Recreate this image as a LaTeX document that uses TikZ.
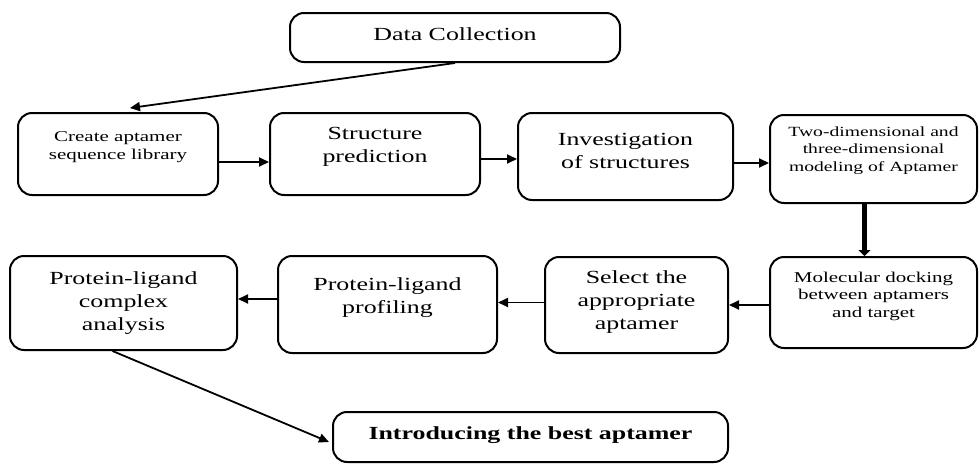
\documentclass[tikz,border=0pt]{standalone}
\usepackage{fontspec}
\setmainfont{Liberation Serif}[FakeStretch=1.4]
\usetikzlibrary{arrows.meta,calc}
\begin{document}
\begin{tikzpicture}[x=1pt,y=-1pt,
  box/.style={draw=black, line width=2pt, rounded corners=14pt, fill=white, inner sep=0pt},
  lbl/.style={align=center, inner sep=0pt},
  big/.style={font=\fontsize{18.5}{23}\selectfont},
  small/.style={font=\fontsize{15}{17.5}\selectfont},
  tiny/.style={font=\fontsize{14}{17.5}\selectfont},
  arr/.style={line width=1.8pt, -{Triangle[length=10pt,width=9pt]}},
  tarr/.style={line width=5.5pt, -{Triangle[length=6pt,width=12pt]}}]
\useasboundingbox (0,0) rectangle (980,466);
% boxes
\node[box, minimum width=330pt, minimum height=49pt] (dc) at (455,37.5) {};
\node[box, minimum width=200pt, minimum height=82pt] (create) at (118,154) {};
\node[box, minimum width=210pt, minimum height=82pt] (struct) at (375,154) {};
\node[box, minimum width=215pt, minimum height=87pt] (inv) at (625.5,156.5) {};
\node[box, minimum width=207pt, minimum height=88pt] (two) at (873.5,159) {};
\node[box, minimum width=207pt, minimum height=91pt] (mol) at (873.5,302.5) {};
\node[box, minimum width=183pt, minimum height=96pt] (sel) at (636.5,305) {};
\node[box, minimum width=219pt, minimum height=97pt] (prof) at (387.5,304.5) {};
\node[box, minimum width=227pt, minimum height=94pt] (comp) at (123.5,303) {};
\node[box, minimum width=395pt, minimum height=50pt] (intro) at (530.5,437) {};
% texts
\node[lbl, big] (tdc) at (455,34) {Data Collection};
\node[lbl, small] (tcreate) at (118,147) {Create aptamer\\sequence library};
\node[lbl, big] (tstruct) at (375,147) {Structure\\prediction};
\node[lbl, big] (tinv) at (625.5,150.5) {Investigation\\of structures};
\node[lbl, tiny] (ttwo) at (873.5,150.5) {Two-dimensional and\\three-dimensional\\modeling of Aptamer};
\node[lbl, small] (tmol) at (873.5,296) {Molecular docking\\between aptamers\\and target};
\node[lbl, big] (tsel) at (636.5,302) {Select the\\appropriate\\aptamer};
\node[lbl, big] (tprof) at (387.5,298) {Protein-ligand\\profiling};
\node[lbl, big] (tcomp) at (123.5,303) {Protein-ligand\\complex\\analysis};
\node[lbl, font=\fontsize{18.5}{23}\selectfont\bfseries] (tintro) at (530.5,435) {Introducing the best aptamer};
% connectors
\coordinate (c1) at ($(create.north)+(12pt,4pt)$);
\draw[arr] (dc.south) -- (c1);
\draw[arr] ([yshift=-8pt]create.east) -- ([yshift=-8pt]create.east -| struct.west);
\draw[arr] ([yshift=-5pt]struct.east) -- ([yshift=-5pt]struct.east -| inv.west);
\draw[arr] ([yshift=-6.5pt]inv.east) -- ([yshift=-6.5pt]inv.east -| two.west);
\draw[tarr] ([xshift=-9pt]two.south) -- ([xshift=-9pt]two.south |- mol.north);
\draw[arr] ([yshift=-2.5pt]mol.west) -- ([yshift=-2.5pt]mol.west -| sel.east);
\draw[arr] ([yshift=2.5pt]sel.west) -- ([yshift=2.5pt]sel.west -| prof.east);
\draw[arr] ([yshift=5.5pt]prof.west) -- ([yshift=5.5pt]prof.west -| comp.east);
\coordinate (c2) at ($(intro.west)+(-3pt,-5pt)$);
\draw[arr] ([xshift=-11pt]comp.south) -- (c2);
\end{tikzpicture}
\end{document}
